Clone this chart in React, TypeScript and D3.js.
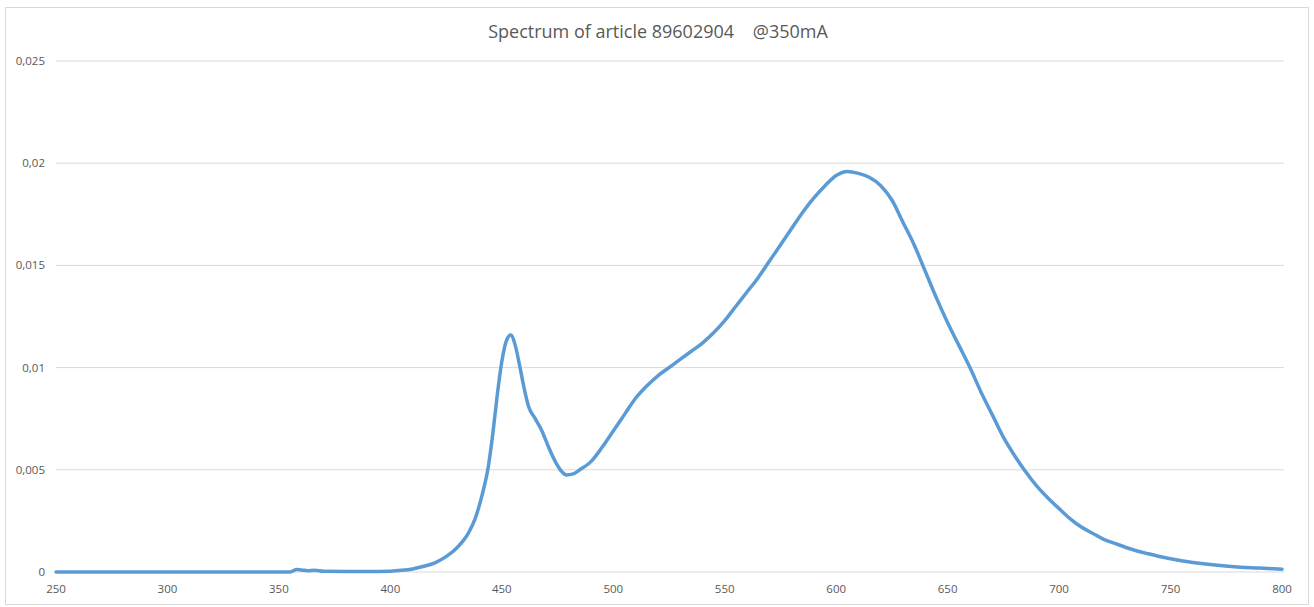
import React from "react";
import * as d3 from "d3";

// wavelength (nm) and relative intensity
const wavelengths = [
  250, 300, 355, 358, 360, 363, 366, 370, 380, 390, 400, 405, 410, 415, 420,
  425, 430, 435, 438, 441, 444, 446, 448, 450, 452, 454, 456, 458, 460, 462,
  465, 468, 471, 474, 477, 479, 482, 485, 490, 495, 500, 505, 510, 515, 520,
  525, 530, 535, 540, 545, 550, 555, 560, 565, 570, 575, 580, 585, 590, 595,
  600, 605, 610, 615, 620, 625, 630, 635, 640, 645, 650, 655, 660, 665, 670,
  675, 680, 685, 690, 695, 700, 705, 710, 715, 720, 725, 730, 735, 740, 745,
  750, 760, 770, 780, 790, 800,
];
const intensity = [
  0, 0, 0, 0.00012, 0.0001, 0.00006, 0.00009, 0.00004, 0.00003, 0.00002,
  0.00004, 0.00008, 0.00015, 0.00028, 0.00045, 0.00075, 0.0012, 0.0019,
  0.0026, 0.0037, 0.0052, 0.0068, 0.0087, 0.0103, 0.0113, 0.0116, 0.0111,
  0.0101, 0.009, 0.0081, 0.0075, 0.0069, 0.0061, 0.0054, 0.0049, 0.00475,
  0.0048, 0.005, 0.0054, 0.0061, 0.0069, 0.0077, 0.0085, 0.0091, 0.0096,
  0.01, 0.0104, 0.0108, 0.0112, 0.0117, 0.0123, 0.013, 0.0137, 0.0144,
  0.0152, 0.016, 0.0168, 0.0176, 0.0183, 0.0189, 0.0194, 0.0196, 0.0195,
  0.0193, 0.0189, 0.0182, 0.0171, 0.016, 0.0147, 0.0134, 0.0122, 0.0111,
  0.01, 0.0088, 0.0077, 0.0066, 0.0057, 0.0049, 0.0042, 0.00362, 0.0031,
  0.0026, 0.0022, 0.0019, 0.0016, 0.0014, 0.0012, 0.00103, 0.00089, 0.00076,
  0.00065, 0.00047, 0.00034, 0.00025, 0.00019, 0.00014,
];
const xTicks = [250, 300, 350, 400, 450, 500, 550, 600, 650, 700, 750, 800];
const yTicks = [0, 0.005, 0.01, 0.015, 0.02, 0.025];
const title = "Spectrum of article 89602904    @350mA";

const W = 1314;
const H = 607;
const margin = { top: 61, right: 30, bottom: 35, left: 56 };

export default function App() {
  const x = d3
    .scaleLinear()
    .domain([250, 800])
    .range([margin.left, W - margin.right - 2]);
  const y = d3
    .scaleLinear()
    .domain([0, 0.025])
    .range([H - margin.bottom, margin.top]);

  const points = wavelengths.map((w, i) => [w, intensity[i]] as [number, number]);
  const line = d3
    .line<[number, number]>()
    .x((d) => x(d[0]))
    .y((d) => y(d[1]))
    .curve(d3.curveMonotoneX);

  const fmt = (v: number) => String(+v.toFixed(3)).replace(".", ",");
  const font = "'Open Sans', 'Noto Sans', sans-serif";

  return (
    <div>
      <style>{"body{margin:0}"}</style>
      <svg width={W} height={H} style={{ display: "block", fontFamily: font }}>
        <rect x={0} y={0} width={W} height={H} fill="#fff" />
        <rect
          x={5.5}
          y={7.5}
          width={W - 11}
          height={H - 10}
          fill="none"
          stroke="#d9d9d9"
        />
        <text
          x={658}
          y={38}
          textAnchor="middle"
          fontSize={18}
          fill="#595959"
          style={{ whiteSpace: "pre" }}
        >
          {title}
        </text>

        {/* horizontal gridlines and y labels */}
        {yTicks.map((t) => (
          <g key={t}>
            <line
              x1={x(250)}
              x2={x(800) + 2}
              y1={y(t)}
              y2={y(t)}
              stroke="#d9d9d9"
              strokeWidth={1}
            />
            <text
              x={45}
              y={y(t) + 4}
              textAnchor="end"
              fontSize={11.5}
              fill="#595959"
            >
              {fmt(t)}
            </text>
          </g>
        ))}

        {/* x labels */}
        {xTicks.map((t) => (
          <text
            key={t}
            x={x(t)}
            y={H - 14}
            textAnchor="middle"
            fontSize={11.5}
            fill="#595959"
          >
            {t}
          </text>
        ))}

        <path
          d={line(points) ?? ""}
          fill="none"
          stroke="#5b9bd5"
          strokeWidth={3.5}
          strokeLinejoin="round"
          strokeLinecap="round"
        />
      </svg>
    </div>
  );
}
